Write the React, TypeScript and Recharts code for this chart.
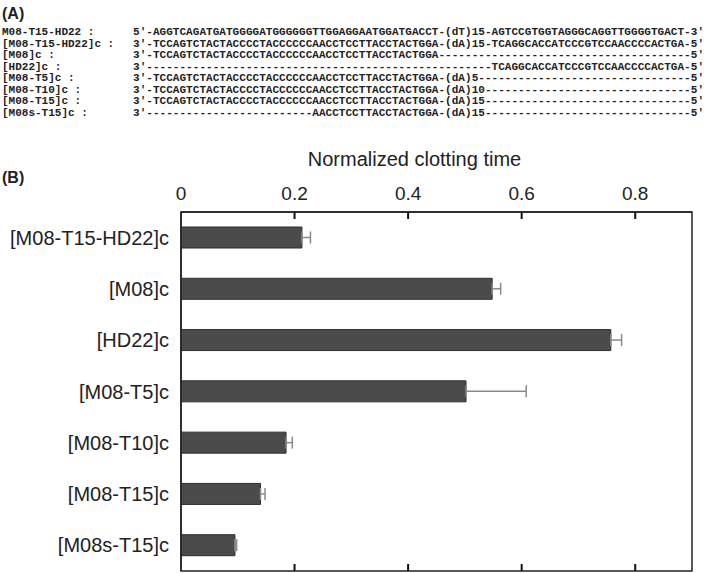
import { BarChart, Bar, XAxis, YAxis, ErrorBar, ReferenceArea, ReferenceLine } from "recharts";

// panel B
const constructs = ["[M08-T15-HD22]c", "[M08]c", "[HD22]c", "[M08-T5]c", "[M08-T10]c", "[M08-T15]c", "[M08s-T15]c"];
const clotting = [0.213, 0.548, 0.757, 0.502, 0.185, 0.14, 0.095];
const clottingErr = [0.015, 0.015, 0.019, 0.106, 0.011, 0.008, 0.003];
const xTicks = [0, 0.2, 0.4, 0.6, 0.8];

// panel A
const seqNames = [
  "M08-T15-HD22 :",
  "[M08-T15-HD22]c :",
  "[M08]c :",
  "[HD22]c :",
  "[M08-T5]c :",
  "[M08-T10]c :",
  "[M08-T15]c :",
  "[M08s-T15]c :",
];
const seqLines = [
  "5′-AGGTCAGATGATGGGGATGGGGGGTTGGAGGAATGGATGACCT-(dT)15-AGTCCGTGGTAGGGCAGGTTGGGGTGACT-3′",
  "3′-TCCAGTCTACTACCCCTACCCCCCAACCTCCTTACCTACTGGA-(dA)15-TCAGGCACCATCCCGTCCAACCCCACTGA-5′",
  "3′-TCCAGTCTACTACCCCTACCCCCCAACCTCCTTACCTACTGGA--------------------------------------5′",
  "3′----------------------------------------------------TCAGGCACCATCCCGTCCAACCCCACTGA-5′",
  "3′-TCCAGTCTACTACCCCTACCCCCCAACCTCCTTACCTACTGGA-(dA)5--------------------------------5′",
  "3′-TCCAGTCTACTACCCCTACCCCCCAACCTCCTTACCTACTGGA-(dA)10-------------------------------5′",
  "3′-TCCAGTCTACTACCCCTACCCCCCAACCTCCTTACCTACTGGA-(dA)15-------------------------------5′",
  "3′-------------------------AACCTCCTTACCTACTGGA-(dA)15-------------------------------5′",
];

const data = constructs.map((name, i) => ({
  name,
  value: clotting[i],
  err: [0, clottingErr[i]],
}));

const sans = "'Liberation Sans', Arial, sans-serif";
const mono = "'Liberation Mono', 'Courier New', monospace";
const ink = "#222";

// short inward tick marks at top and bottom of the frame
const tickMark = (p: any) => {
  const x = Number(p.x1);
  const top = Math.min(Number(p.y1), Number(p.y2));
  const bottom = Math.max(Number(p.y1), Number(p.y2));
  return (
    <g>
      <line x1={x} x2={x} y1={top} y2={top + 7} stroke="#111" strokeWidth={2} />
      <line x1={x} x2={x} y1={bottom - 7} y2={bottom} stroke="#111" strokeWidth={2} />
    </g>
  );
};

export default function App() {
  return (
    <div style={{ position: "absolute", left: 0, top: 0, width: 709, height: 573, background: "#fff", fontFamily: sans }}>
      <svg width={709} height={573} style={{ position: "absolute", left: 0, top: 0 }}>
        <text x={2} y={19} fontSize={16} fontWeight="bold" fill={ink} fontFamily={sans}>(A)</text>
        {seqNames.map((n, i) => (
          <text key={n} x={2} y={35 + i * 11.5} fontSize={11} fontWeight="bold" fill={ink} fontFamily={mono}>
            {n}
          </text>
        ))}
        {seqLines.map((s, i) => (
          <text
            key={i}
            x={133}
            y={35 + i * 11.5}
            fontSize={11}
            fontWeight="bold"
            fill={ink}
            fontFamily={mono}
            textLength={571}
            lengthAdjust="spacing"
          >
            {s}
          </text>
        ))}
        <text x={2} y={183} fontSize={16} fontWeight="bold" fill={ink} fontFamily={sans}>(B)</text>
      </svg>
      <div style={{ position: "absolute", left: 0, top: 0 }}>
        <BarChart
          width={709}
          height={573}
          data={data}
          layout="vertical"
          margin={{ top: 152, right: 17, bottom: 2, left: 0 }}
          barSize={21}
        >
          <XAxis
            type="number"
            orientation="top"
            domain={[0, 0.9]}
            allowDataOverflow
            ticks={xTicks}
            interval={0}
            height={60}
            tickSize={0}
            tickMargin={12}
            tickLine={false}
            tick={{ fontSize: 19, fill: ink, fontFamily: sans }}
            axisLine={{ stroke: ink, strokeWidth: 1.5 }}
            label={{
              value: "Normalized clotting time",
              position: "insideTop",
              offset: 0,
              dx: -22,
              fontSize: 20,
              fill: ink,
              fontFamily: sans,
            }}
          />
          <YAxis
            type="category"
            dataKey="name"
            width={181}
            tickSize={0}
            tickMargin={12}
            tick={{ fontSize: 20, fill: ink, fontFamily: sans }}
            axisLine={{ stroke: ink, strokeWidth: 1.5 }}
          />
          <ReferenceArea x1={0} x2={0.9} fill="none" stroke={ink} strokeWidth={1.5} ifOverflow="visible" />
          {xTicks.slice(1).map((v) => (
            <ReferenceLine key={v} x={v} shape={tickMark} ifOverflow="visible" />
          ))}
          <Bar dataKey="value" fill="#4b4b4b" stroke="#2e2e2e" strokeWidth={1} isAnimationActive={false}>
            <ErrorBar dataKey="err" direction="x" width={6} stroke="#8a8a8a" strokeWidth={1.5} />
          </Bar>
        </BarChart>
      </div>
    </div>
  );
}
